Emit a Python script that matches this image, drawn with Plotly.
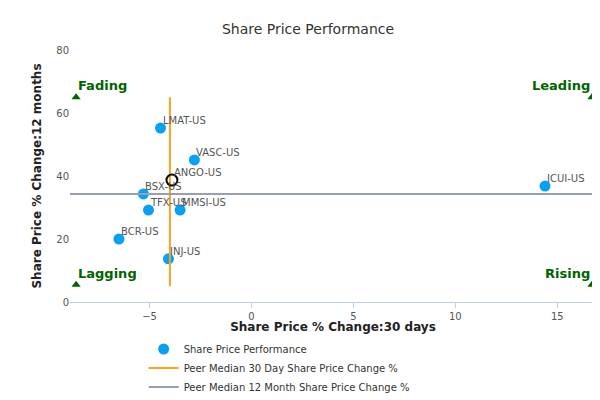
import plotly.graph_objects as go

tickers = ["LMAT-US","VASC-US","BSX-US","TFX-US","MMSI-US","BCR-US","INJ-US","ICUI-US"]
x30 = [-4.46,-2.8,-5.3,-5.05,-3.5,-6.5,-4.07,14.4]
y12 = [55.2,45.1,34.3,29.2,29.2,20.0,13.7,36.8]
self_name = "ANGO-US"; self_x = -3.9; self_y = 38.7
median_x = -4.0; median_y = 34.3
xr = [-8.9, 16.9]; yr = [0, 80]
quad_labels = ["Fading","Leading","Lagging","Rising"]
quad_x = [-8.6, 16.7, -8.6, 16.7]
quad_y = [65, 65, 5.5, 5.5]

fig = go.Figure()
fig.add_trace(go.Scatter(x=x30, y=y12, mode="markers", name="Share Price Performance",
    marker=dict(color="#0AA0F0", size=11), hoverinfo="skip", cliponaxis=False))
fig.add_trace(go.Scatter(x=[median_x, median_x], y=[5, 65], mode="lines",
    name="Peer Median 30 Day Share Price Change %", line=dict(color="#F7A323", width=2)))
fig.add_trace(go.Scatter(x=xr, y=[median_y, median_y], mode="lines",
    name="Peer Median 12 Month Share Price Change %", line=dict(color="#98A0AC", width=2)))
fig.add_trace(go.Scatter(x=[self_x], y=[self_y], mode="markers", showlegend=False,
    marker=dict(color="rgba(0,0,0,0)", size=11, line=dict(color="black", width=2))))
fig.add_trace(go.Scatter(x=quad_x, y=quad_y, mode="markers", showlegend=False, cliponaxis=False,
    marker=dict(symbol="triangle-up", color="#006400", size=8)))
for t, x, y in zip(tickers + [self_name], x30 + [self_x], y12 + [self_y]):
    fig.add_annotation(x=x, y=y, text=t, showarrow=False, xanchor="left", yanchor="bottom",
        xshift=0, yshift=0, font=dict(size=10, color="#555"))
for t, x, y in zip(quad_labels, quad_x, quad_y):
    left = x < 0
    fig.add_annotation(x=x, y=y, text="<b>"+t+"</b>", showarrow=False,
        xanchor="left" if left else "right", yanchor="bottom", xshift=0, yshift=2,
        font=dict(size=13, color="#006400"))
fig.update_layout(
    width=600, height=400, plot_bgcolor="white", paper_bgcolor="white",
    margin=dict(l=62, r=12, t=42, b=106, autoexpand=False),
    font=dict(family="DejaVu Sans", color="#333"),
    title=dict(text="Share Price Performance", x=0.5, y=0.96, font=dict(size=14, color="#333")),
    xaxis=dict(range=xr, tickvals=[-5,0,5,10,15], showgrid=False, zeroline=False,
        showline=True, linecolor="#C0D0E0", ticks="outside", tickcolor="#C0D0E0",
        tickfont=dict(size=10, color="#555"),
        title=dict(text="<b>Share Price % Change:30 days</b>", standoff=14, font=dict(size=12, color="#222"))),
    yaxis=dict(range=yr, tickvals=[0,20,40,60,80], showgrid=False, zeroline=False,
        tickfont=dict(size=10, color="#555"),
        title=dict(text="<b>Share Price % Change:12 months</b>", standoff=12, font=dict(size=12, color="#222"))),
    legend=dict(orientation="h", x=0.14, y=0.1, yref="container", xanchor="left", yanchor="middle",
        entrywidth=240, entrywidthmode="pixels", itemwidth=30, tracegroupgap=0,
        font=dict(size=10, color="#333"), traceorder="normal"),
)
fig.add_annotation(text="www.capitalcube.com", xref="paper", yref="paper", x=1.0, y=-0.4,
    xanchor="right", yanchor="top", showarrow=False, font=dict(size=9, color="#999"))
fig.write_html("out.html")
